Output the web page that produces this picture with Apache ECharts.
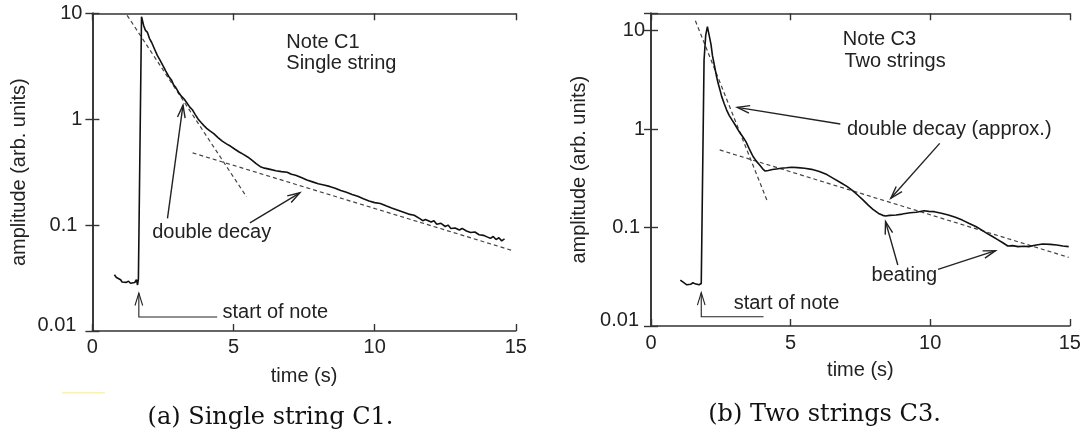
<!DOCTYPE html>
<html><head><meta charset="utf-8">
<script src="https://cdn.jsdelivr.net/npm/echarts@6/dist/echarts.min.js"></script>
<style>html,body{margin:0;padding:0;background:#fff}#c{width:1087px;height:439px}</style>
</head><body><div id="c"></div>
<script>
// ---------- data ----------
const xTickValues = [0, 5, 10, 15];
const yTickValues = [0.01, 0.1, 1, 10];
const yTickLabels = ['0.01', '0.1', '1', '10'];

// Note C1, single string: [time (s), amplitude]
const c1Curve = [
  [0.78,0.034],[0.85,0.032],[0.92,0.031],[1.0,0.0305],[1.05,0.029],[1.12,0.0298],[1.2,0.0288],
  [1.28,0.0295],[1.35,0.0282],[1.42,0.029],[1.5,0.0287],[1.56,0.0305],[1.6,0.0272],[1.63,0.031],
  [1.74,9.3],[1.78,9.2],[1.82,7.6],[1.88,6.9],[1.95,6.6],[2.02,5.8],[2.1,5.3],[2.2,4.6],[2.3,4.0],
  [2.4,3.6],[2.5,3.2],[2.6,2.85],[2.7,2.55],[2.8,2.35],[2.88,2.1],[2.95,2.0],[3.05,1.8],[3.15,1.65],
  [3.25,1.55],[3.35,1.42],[3.45,1.3],[3.55,1.22],[3.65,1.1],[3.75,1.0],[3.85,0.93],[3.95,0.87],
  [4.05,0.82],[4.15,0.78],[4.3,0.73],[4.45,0.67],[4.6,0.62],[4.75,0.585],[4.9,0.555],[5.05,0.52],
  [5.2,0.49],[5.35,0.465],[5.5,0.44],[5.65,0.41],[5.8,0.38],[5.95,0.356],[6.1,0.345],[6.3,0.336],
  [6.5,0.326],[6.7,0.32],[6.9,0.316],[7.05,0.302],[7.2,0.296],[7.4,0.281],[7.6,0.266],[7.8,0.256],
  [8.0,0.246],[8.2,0.239],[8.4,0.232],[8.6,0.223],[8.8,0.212],[9.0,0.204],[9.2,0.195],[9.4,0.187],
  [9.6,0.177],[9.8,0.169],[10.0,0.163],[10.2,0.16],[10.4,0.152],[10.6,0.145],[10.8,0.139],[11.0,0.133],
  [11.2,0.127],[11.4,0.124],[11.6,0.115],[11.7,0.11],[11.8,0.113],[12.0,0.107],[12.1,0.11],[12.2,0.102],
  [12.35,0.104],[12.5,0.097],[12.6,0.1],[12.7,0.093],[12.85,0.094],[13.0,0.09],[13.1,0.093],[13.25,0.088],
  [13.4,0.085],[13.55,0.086],[13.7,0.081],[13.85,0.08],[14.0,0.077],[14.1,0.075],[14.2,0.078],
  [14.3,0.073],[14.4,0.076],[14.5,0.071],[14.6,0.074]
];
const c1FitFast = [[1.23,9.57],[5.46,0.185]];
const c1FitSlow = [[3.55,0.481],[14.9,0.0573]];

// Note C3, two strings
const c3Curve = [
  [1.05,0.0293],[1.12,0.028],[1.2,0.0272],[1.28,0.0262],[1.35,0.027],[1.42,0.0265],[1.5,0.0275],
  [1.58,0.0268],[1.65,0.0272],[1.72,0.0262],[1.8,0.027],[1.9,5.0],[1.96,9.0],[2.02,11.0],[2.06,10.5],
  [2.1,8.5],[2.15,7.2],[2.2,5.6],[2.28,4.3],[2.35,3.4],[2.4,2.95],[2.47,2.5],[2.53,2.15],[2.62,1.82],
  [2.71,1.56],[2.8,1.38],[2.9,1.24],[3.0,1.12],[3.15,0.95],[3.28,0.84],[3.4,0.745],[3.52,0.63],
  [3.65,0.53],[3.78,0.47],[3.9,0.43],[4.0,0.395],[4.09,0.375],[4.2,0.38],[4.35,0.388],[4.5,0.394],
  [4.65,0.4],[4.85,0.405],[5.03,0.41],[5.25,0.406],[5.5,0.4],[5.75,0.39],[6.03,0.37],[6.3,0.345],
  [6.53,0.316],[6.8,0.285],[7.03,0.26],[7.2,0.24],[7.4,0.214],[7.6,0.19],[7.78,0.169],[7.95,0.153],
  [8.15,0.139],[8.3,0.133],[8.4,0.131],[8.55,0.133],[8.78,0.134],[9.0,0.137],[9.28,0.1415],[9.5,0.143],
  [9.78,0.148],[9.95,0.146],[10.15,0.145],[10.4,0.14],[10.65,0.134],[10.9,0.127],[11.15,0.119],
  [11.4,0.11],[11.65,0.102],[11.85,0.094],[12.03,0.0873],[12.2,0.082],[12.4,0.0759],[12.6,0.07],
  [12.78,0.0649],[12.95,0.0655],[13.15,0.064],[13.35,0.0645],[13.53,0.064],[13.75,0.066],[14.03,0.068],
  [14.3,0.0675],[14.53,0.0665],[14.75,0.065],[14.96,0.064]
];
const c3FitFast = [[1.59,12.6],[4.15,0.19]];
const c3FitSlow = [[2.46,0.614],[14.96,0.0498]];

// annotation arrows: points from tail to head, in data units
const c1Arrows = [
  [[4.42,0.01355],[1.645,0.01355],[1.645,0.0228]],
  [[2.66,0.1156],[3.21,1.356]],
  [[5.58,0.105],[7.35,0.2018]]
];
const c3Arrows = [
  [[4.03,0.0124],[1.8,0.0124],[1.8,0.0218]],
  [[6.78,1.127],[3.09,1.66]],
  [[10.34,0.716],[8.59,0.198]],
  [[8.84,0.0416],[8.4,0.1148]],
  [[10.28,0.0376],[12.34,0.0582]]
];
// annotation texts: [time, amplitude, text] (left edge, vertical middle)
const c1Notes = [
  [6.87,5.32,'Note C1'],
  [6.87,3.38,'Single string'],
  [2.12,0.0859,'double decay'],
  [4.61,0.0148,'start of note']
];
const c3Notes = [
  [6.87,8.05,'Note C3'],
  [6.93,4.81,'Two strings'],
  [7.02,0.997,'double decay (approx.)'],
  [7.9,0.0324,'beating'],
  [2.96,0.0168,'start of note']
];
const captions = ['(a) Single string C1.', '(b) Two strings C3.'];
const xName = 'time (s)';
const yName = 'amplitude (arb. units)';

// ---------- chart ----------
const FONT = '"Liberation Sans", Arial, sans-serif';
const INK = '#222';
const FRAME = '#333';

function yLabel(v){
  const l = Math.log10(v);
  if (Math.abs(l - Math.round(l)) > 1e-6) return '';
  const i = yTickValues.findIndex(t => Math.abs(Math.log10(t) - l) < 1e-6);
  if (i < 0) return '';
  const s = yTickLabels[i];
  if (i === 0) return '{b|' + s + '}';
  return s.indexOf('.') >= 0 ? '{d|' + s + '}' : '{n|' + s + '}';
}

function makeAxes(gi, ymax, ylabMargin, xlabMargin, yNameGap, xNameGap){
  const line = {show:true, lineStyle:{color:FRAME, width:1.6}};
  const tick = {show:true, inside:true, length:7, lineStyle:{color:FRAME, width:1.4}};
  const xs = [
    {type:'value', gridIndex:gi, min:xTickValues[0], max:xTickValues[xTickValues.length-1], interval:5,
     position:'bottom', axisLine:line, axisTick:tick, splitLine:{show:false},
     axisLabel:{show:true, margin:xlabMargin, color:INK, fontSize:20, fontFamily:FONT, showMinLabel:true, showMaxLabel:true},
     name:xName, nameLocation:'middle', nameGap:xNameGap, nameTextStyle:{color:INK, fontSize:20, fontFamily:FONT}},
    {type:'value', gridIndex:gi, min:xTickValues[0], max:xTickValues[xTickValues.length-1], interval:5,
     position:'top', axisLine:line, axisTick:tick, splitLine:{show:false}, axisLabel:{show:false}}
  ];
  const ys = [
    {type:'log', logBase:10, gridIndex:gi, min:0.01, max:ymax, position:'left',
     axisLine:line, axisTick:tick, splitLine:{show:false}, minorTick:{show:false},
     axisLabel:{show:true, margin:ylabMargin, color:INK, fontSize:20, fontFamily:FONT, formatter:yLabel,
       showMinLabel:true, showMaxLabel:true,
       rich:{n:{fontSize:20, fontFamily:FONT, color:INK},
             d:{fontSize:20, fontFamily:FONT, color:INK, padding:[0,5,0,0]},
             b:{fontSize:20, fontFamily:FONT, color:INK, padding:[0,6,12,0]}}},
     name:yName, nameLocation:'middle', nameGap:yNameGap, nameTextStyle:{color:INK, fontSize:20, fontFamily:FONT}},
    {type:'log', logBase:10, gridIndex:gi, min:0.01, max:ymax, position:'right',
     axisLine:line, axisTick:tick, splitLine:{show:false}, axisLabel:{show:false}}
  ];
  return {xs, ys};
}

function lineSeries(data, gi, dashed){
  return {type:'line', xAxisIndex:gi*2, yAxisIndex:gi*2, data:data, symbol:'none', silent:true,
    animation:false, clip:false, z: dashed ? 3 : 4,
    lineStyle: dashed ? {color:'#444', width:1.2, type:[4,3]} : {color:'#111', width:1.6}};
}

function arrowSeries(arrows, gi){
  return {type:'custom', xAxisIndex:gi*2, yAxisIndex:gi*2, silent:true, animation:false, z:6,
    data: arrows.map(a => a[a.length-1]),
    renderItem: function(params, api){
      const pts = arrows[params.dataIndex].map(p => api.coord(p));
      const n = pts.length, h = pts[n-1], p = pts[n-2];
      const ang = Math.atan2(h[1]-p[1], h[0]-p[0]);
      const L = 13, A = 0.3;
      const l1 = [h[0]-L*Math.cos(ang-A), h[1]-L*Math.sin(ang-A)];
      const l2 = [h[0]-L*Math.cos(ang+A), h[1]-L*Math.sin(ang+A)];
      const w = n > 2 ? 1.1 : 1.4;
      return {type:'group', children:[
        {type:'polyline', shape:{points:pts}, style:{stroke:'#222', lineWidth:w, fill:null}},
        {type:'polyline', shape:{points:[l1,h,l2]}, style:{stroke:'#222', lineWidth:w, fill:null}}
      ]};
    }};
}

function noteSeries(notes, gi){
  return {type:'custom', xAxisIndex:gi*2, yAxisIndex:gi*2, silent:true, animation:false, z:7,
    data: notes.map(n => [n[0], n[1]]),
    renderItem: function(params, api){
      const p = api.coord([api.value(0), api.value(1)]);
      return {type:'text', x:p[0], y:p[1], style:{text:notes[params.dataIndex][2], fill:INK,
        fontSize:20, fontFamily:FONT, align:'left', verticalAlign:'middle'}};
    }};
}

const a0 = makeAxes(0, 10, 10, 6, 63, 35);
const a1 = makeAxes(1, 15, 6, 7, 62, 34);

const option = {
  animation:false,
  backgroundColor:'#fff',
  grid:[
    {left:92.4, top:13.3, width:423.4, height:317.7, containLabel:false},
    {left:651, top:13.3, width:418.8, height:312.7, containLabel:false}
  ],
  xAxis:[...a0.xs, ...a1.xs],
  yAxis:[...a0.ys, ...a1.ys],
  series:[
    lineSeries(c1FitFast, 0, true), lineSeries(c1FitSlow, 0, true), lineSeries(c1Curve, 0, false),
    arrowSeries(c1Arrows, 0), noteSeries(c1Notes, 0),
    lineSeries(c3FitFast, 1, true), lineSeries(c3FitSlow, 1, true), lineSeries(c3Curve, 1, false),
    arrowSeries(c3Arrows, 1), noteSeries(c3Notes, 1)
  ],
  graphic:[
    {type:'text', x:270.5, y:418, style:{text:captions[0], fill:'#111', fontSize:24,
      fontFamily:'"DejaVu Serif", serif', align:'center', verticalAlign:'middle'}},
    {type:'text', x:824.5, y:415, style:{text:captions[1], fill:'#111', fontSize:24,
      fontFamily:'"DejaVu Serif", serif', align:'center', verticalAlign:'middle'}},
    {type:'line', shape:{x1:62, y1:392.7, x2:105, y2:392.7}, style:{stroke:'#fff3a6', lineWidth:1.5}}
  ]
};

const chart = echarts.init(document.getElementById('c'), null, {renderer:'canvas'});
chart.setOption(option);
</script>
</body></html>
